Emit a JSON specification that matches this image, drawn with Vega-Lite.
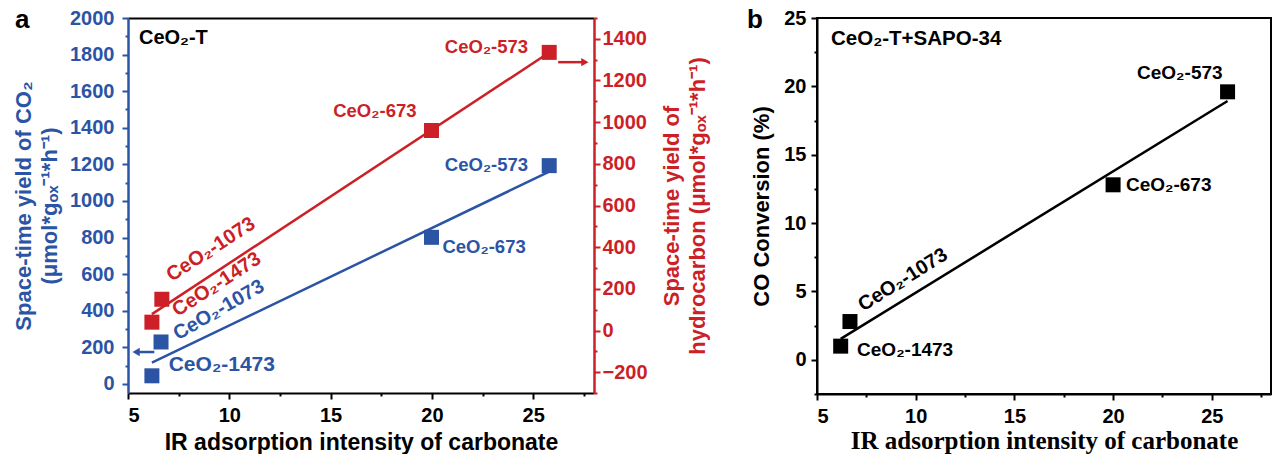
{
  "$schema": "https://vega.github.io/schema/vega-lite/v6.json",
  "padding": {"left": 12, "top": 6, "right": 2, "bottom": 0},
  "spacing": 37,
  "config": {
    "font": "Liberation Sans",
    "view": {"stroke": "black", "strokeWidth": 2},
    "axis": {
      "grid": false,
      "labelFont": "Liberation Sans", "labelFontWeight": "bold", "labelFontSize": 20,
      "titleFont": "Liberation Sans", "titleFontWeight": "bold", "titleFontSize": 22,
      "domainWidth": 2, "tickWidth": 2, "domainColor": "black", "tickColor": "black",
      "labelColor": "black", "titleColor": "black"
    }
  },
  "datasets": {
    "a_co2": [{"x": 6.18, "y": 44}, {"x": 6.63, "y": 229}, {"x": 19.98, "y": 801}, {"x": 25.79, "y": 1193}],
    "a_hc": [{"x": 6.18, "y": 40}, {"x": 6.67, "y": 150}, {"x": 19.98, "y": 960}, {"x": 25.79, "y": 1335}],
    "b_co": [{"x": 6.2, "y": 1.0}, {"x": 6.67, "y": 2.8}, {"x": 20.0, "y": 12.8}, {"x": 25.8, "y": 19.6}],
    "labels": [
      {"g": "a_black_left", "x": 5.54, "y": 1891, "text": "CeO₂-T"},
      {"g": "a_panel", "x": -0.22, "y": 1989, "text": "a"},
      {"g": "a_blue_right", "x": 24.75, "y": 1199, "text": "CeO₂-573"},
      {"g": "a_blue_left", "x": 20.52, "y": 747, "text": "CeO₂-673"},
      {"g": "a_blue_rot", "x": 9.48, "y": 403, "text": "CeO₂-1073"},
      {"g": "a_blue_big", "x": 9.63, "y": 104, "text": "CeO₂-1473"},
      {"g": "a_red_right", "x": 24.75, "y": 1360, "text": "CeO₂-573"},
      {"g": "a_red_right", "x": 19.24, "y": 1053, "text": "CeO₂-673"},
      {"g": "a_red_rot", "x": 9.09, "y": 389, "text": "CeO₂-1073"},
      {"g": "a_red_rot", "x": 9.38, "y": 221, "text": "CeO₂-1473"},
      {"g": "b_panel", "x": 1.86, "y": 24.85, "text": "b"},
      {"g": "b_left", "x": 5.71, "y": 23.5, "text": "CeO₂-T+SAPO-34"},
      {"g": "b_center", "x": 23.38, "y": 20.98, "text": "CeO₂-573"},
      {"g": "b_left_small", "x": 20.65, "y": 12.8, "text": "CeO₂-673"},
      {"g": "b_left_small", "x": 7.03, "y": 0.73, "text": "CeO₂-1473"},
      {"g": "b_rot", "x": 9.35, "y": 5.85, "text": "CeO₂-1073"}
    ],
    "arrows": [
      {"g": "blue", "x": 5.45, "x2": 6.3, "y": 174, "head": 5.4},
      {"g": "red", "x": 26.23, "x2": 27.5, "y": 1288, "head": 27.55}
    ]
  },
  "hconcat": [
    {
      "width": 466,
      "height": 375,
      "view": {"stroke": null},
      "resolve": {"scale": {"y": "independent"}, "axis": {"x": "independent"}},
      "layer": [
        {
          "encoding": {
            "x": {
              "field": "x", "type": "quantitative",
              "scale": {"domain": [5, 28], "nice": false, "zero": false},
              "axis": {
                "orient": "bottom",
                "values": [5, 7.5, 10, 12.5, 15, 17.5, 20, 22.5, 25, 27.5],
                "labelExpr": "datum.value % 5 === 0 ? datum.label : ''",
                "tickSize": {"condition": {"test": "datum.value % 5 === 0", "value": 6}, "value": 3},
                "labelPadding": 6,
                "title": "IR adsorption intensity of carbonate",
                "titleFontSize": 23,
                "titlePadding": 6
              }
            },
            "y": {
              "field": "y", "type": "quantitative",
              "scale": {"domain": [-50, 2000], "nice": false, "zero": false},
              "axis": {
                "orient": "left",
                "values": [0, 100, 200, 300, 400, 500, 600, 700, 800, 900, 1000, 1100, 1200, 1300, 1400, 1500, 1600, 1700, 1800, 1900, 2000],
                "format": "d",
                "labelExpr": "datum.value % 200 === 0 ? datum.label : ''",
                "tickSize": {"condition": {"test": "datum.value % 200 === 0", "value": 6}, "value": 3},
                "labelPadding": 8,
                "domainColor": "#2B54A5", "domainWidth": 2.5, "tickColor": "#2B54A5",
                "labelColor": "#2B54A5", "titleColor": "#2B54A5",
                "title": ["Space-time yield of CO₂", "(μmol*gₒₓ⁻¹*h⁻¹)"],
                "titleLineHeight": 26,
                "titlePadding": 8
              }
            }
          },
          "layer": [
            {"data": {"name": "a_co2"}, "transform": [{"regression": "y", "on": "x"}],
             "mark": {"type": "line", "color": "#2B54A5", "strokeWidth": 2.5}},
            {"data": {"name": "a_co2"},
             "mark": {"type": "point", "shape": "square", "filled": true, "size": 225, "color": "#2B54A5", "opacity": 1}},
            {"data": {"name": "arrows"}, "transform": [{"filter": "datum.g === 'blue'"}],
             "mark": {"type": "rule", "color": "#2B54A5", "strokeWidth": 2.5},
             "encoding": {"x2": {"field": "x2"}}},
            {"data": {"name": "arrows"}, "transform": [{"filter": "datum.g === 'blue'"}],
             "mark": {"type": "point", "shape": "triangle-left", "filled": true, "size": 70, "color": "#2B54A5", "opacity": 1},
             "encoding": {"x": {"field": "head", "type": "quantitative"}}},
            {"data": {"name": "labels"}, "transform": [{"filter": "datum.g === 'a_black_left'"}],
             "mark": {"type": "text", "align": "left", "baseline": "middle", "fontSize": 20, "fontWeight": "bold", "color": "black"},
             "encoding": {"text": {"field": "text"}}},
            {"data": {"name": "labels"}, "transform": [{"filter": "datum.g === 'a_panel'"}],
             "mark": {"type": "text", "align": "center", "baseline": "middle", "fontSize": 26, "fontWeight": "bold", "color": "black"},
             "encoding": {"text": {"field": "text"}}},
            {"data": {"name": "labels"}, "transform": [{"filter": "datum.g === 'a_blue_right'"}],
             "mark": {"type": "text", "align": "right", "baseline": "middle", "fontSize": 18.5, "fontWeight": "bold", "color": "#2B54A5"},
             "encoding": {"text": {"field": "text"}}},
            {"data": {"name": "labels"}, "transform": [{"filter": "datum.g === 'a_blue_left'"}],
             "mark": {"type": "text", "align": "left", "baseline": "middle", "fontSize": 18.5, "fontWeight": "bold", "color": "#2B54A5"},
             "encoding": {"text": {"field": "text"}}},
            {"data": {"name": "labels"}, "transform": [{"filter": "datum.g === 'a_blue_rot'"}],
             "mark": {"type": "text", "align": "center", "baseline": "middle", "fontSize": 20, "fontWeight": "bold", "angle": 330, "color": "#2B54A5"},
             "encoding": {"text": {"field": "text"}}},
            {"data": {"name": "labels"}, "transform": [{"filter": "datum.g === 'a_blue_big'"}],
             "mark": {"type": "text", "align": "center", "baseline": "middle", "fontSize": 21, "fontWeight": "bold", "color": "#2B54A5"},
             "encoding": {"text": {"field": "text"}}}
          ]
        },
        {
          "encoding": {
            "x": {
              "field": "x", "type": "quantitative",
              "scale": {"domain": [5, 28], "nice": false, "zero": false},
              "axis": {"orient": "top", "labels": false, "ticks": false, "title": null, "domainColor": "black", "domainWidth": 2}
            },
            "y": {
              "field": "y", "type": "quantitative",
              "scale": {"domain": [-300, 1500], "nice": false, "zero": false},
              "axis": {
                "orient": "right",
                "values": [-300, -200, -100, 0, 100, 200, 300, 400, 500, 600, 700, 800, 900, 1000, 1100, 1200, 1300, 1400, 1500],
                "format": "d",
                "labelExpr": "datum.value % 200 === 0 ? datum.label : ''",
                "tickSize": {"condition": {"test": "datum.value % 200 === 0", "value": 6}, "value": 3},
                "labelPadding": 2,
                "domainColor": "#CC1F27", "domainWidth": 2.5, "tickColor": "#CC1F27",
                "labelColor": "#CC1F27", "titleColor": "#CC1F27",
                "title": ["Space-time yield of", "hydrocarbon (μmol*gₒₓ⁻¹*h⁻¹)"],
                "titleAngle": 270,
                "titleLineHeight": 26,
                "titlePadding": 10
              }
            }
          },
          "layer": [
            {"data": {"name": "a_hc"}, "transform": [{"regression": "y", "on": "x"}],
             "mark": {"type": "line", "color": "#CC1F27", "strokeWidth": 2.5}},
            {"data": {"name": "a_hc"},
             "mark": {"type": "point", "shape": "square", "filled": true, "size": 225, "color": "#CC1F27", "opacity": 1}},
            {"data": {"name": "arrows"}, "transform": [{"filter": "datum.g === 'red'"}],
             "mark": {"type": "rule", "color": "#CC1F27", "strokeWidth": 2.5},
             "encoding": {"x2": {"field": "x2"}}},
            {"data": {"name": "arrows"}, "transform": [{"filter": "datum.g === 'red'"}],
             "mark": {"type": "point", "shape": "triangle-right", "filled": true, "size": 70, "color": "#CC1F27", "opacity": 1},
             "encoding": {"x": {"field": "head", "type": "quantitative"}}},
            {"data": {"name": "labels"}, "transform": [{"filter": "datum.g === 'a_red_right'"}],
             "mark": {"type": "text", "align": "right", "baseline": "middle", "fontSize": 18.5, "fontWeight": "bold", "color": "#CC1F27"},
             "encoding": {"text": {"field": "text"}}},
            {"data": {"name": "labels"}, "transform": [{"filter": "datum.g === 'a_red_rot'"}],
             "mark": {"type": "text", "align": "center", "baseline": "middle", "fontSize": 20, "fontWeight": "bold", "angle": 327, "color": "#CC1F27"},
             "encoding": {"text": {"field": "text"}}}
          ]
        }
      ]
    },
    {
      "width": 454,
      "height": 376,
      "encoding": {
        "x": {
          "field": "x", "type": "quantitative",
          "scale": {"domain": [5, 28], "nice": false, "zero": false},
          "axis": {
            "values": [5, 7.5, 10, 12.5, 15, 17.5, 20, 22.5, 25, 27.5],
            "labelExpr": "datum.value % 5 === 0 ? datum.label : ''",
            "tickSize": {"condition": {"test": "datum.value % 5 === 0", "value": 6}, "value": 3},
            "labelPadding": 6,
            "title": "IR adsorption intensity of carbonate",
            "titleFont": "Liberation Serif", "titleFontSize": 25,
            "titlePadding": 2
          }
        },
        "y": {
          "field": "y", "type": "quantitative",
          "scale": {"domain": [-2.5, 25], "nice": false, "zero": false},
          "axis": {
            "values": [-2.5, 0, 2.5, 5, 7.5, 10, 12.5, 15, 17.5, 20, 22.5, 25],
            "labelExpr": "datum.value % 5 === 0 ? format(datum.value, 'd') : ''",
            "tickSize": {"condition": {"test": "datum.value % 5 === 0", "value": 6}, "value": 3},
            "labelPadding": 5,
            "title": "CO Conversion (%)",
            "titlePadding": 10
          }
        }
      },
      "layer": [
        {"data": {"name": "b_co"}, "transform": [{"regression": "y", "on": "x"}],
         "mark": {"type": "line", "color": "black", "strokeWidth": 2.5}},
        {"data": {"name": "b_co"},
         "mark": {"type": "point", "shape": "square", "filled": true, "size": 225, "color": "black", "opacity": 1}},
        {"data": {"name": "labels"}, "transform": [{"filter": "datum.g === 'b_panel'"}],
         "mark": {"type": "text", "align": "center", "baseline": "middle", "fontSize": 26, "fontWeight": "bold", "color": "black"},
         "encoding": {"text": {"field": "text"}}},
        {"data": {"name": "labels"}, "transform": [{"filter": "datum.g === 'b_left'"}],
         "mark": {"type": "text", "align": "left", "baseline": "middle", "fontSize": 20.5, "fontWeight": "bold", "color": "black"},
         "encoding": {"text": {"field": "text"}}},
        {"data": {"name": "labels"}, "transform": [{"filter": "datum.g === 'b_center'"}],
         "mark": {"type": "text", "align": "center", "baseline": "middle", "fontSize": 19, "fontWeight": "bold", "color": "black"},
         "encoding": {"text": {"field": "text"}}},
        {"data": {"name": "labels"}, "transform": [{"filter": "datum.g === 'b_left_small'"}],
         "mark": {"type": "text", "align": "left", "baseline": "middle", "fontSize": 19, "fontWeight": "bold", "color": "black"},
         "encoding": {"text": {"field": "text"}}},
        {"data": {"name": "labels"}, "transform": [{"filter": "datum.g === 'b_rot'"}],
         "mark": {"type": "text", "align": "center", "baseline": "middle", "fontSize": 20, "fontWeight": "bold", "angle": 328, "color": "black"},
         "encoding": {"text": {"field": "text"}}}
      ]
    }
  ]
}
